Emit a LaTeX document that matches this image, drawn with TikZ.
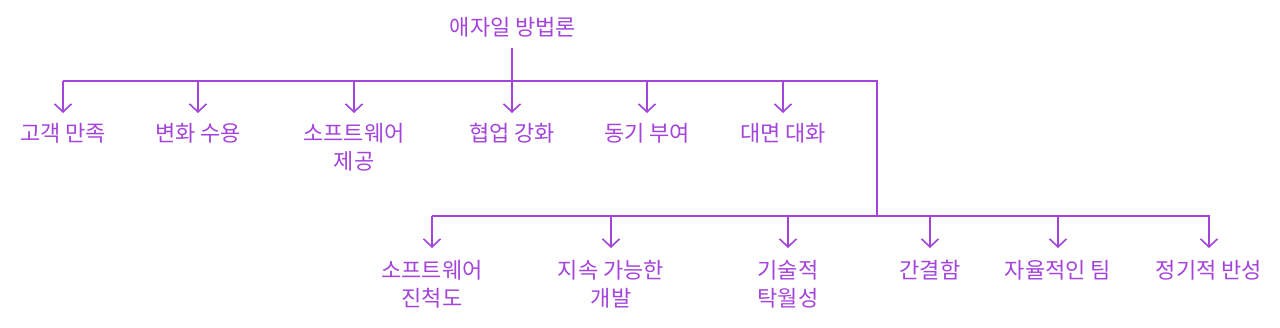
\documentclass[tikz,border=0pt]{standalone}
\usepackage{fontspec}
\setmainfont{Noto Sans CJK KR}
\usetikzlibrary{arrows.meta}
\definecolor{lp}{HTML}{A444DA}
\begin{document}
\begin{tikzpicture}[x=1pt,y=-1pt,
  lbl/.style={text=lp,font=\fontsize{22}{28}\selectfont,align=center,inner sep=0pt,anchor=north},
  conn/.style={draw=lp,line width=1.6pt},
  arr/.style={conn,-{Straight Barb[length=8pt,width=17pt,line width=1.6pt]}}]
\useasboundingbox (0,0) rectangle (1280,327);
\node[lbl,anchor=center] (root) at (513,27) {애자일 방법론};
\coordinate (rb) at (512,48);
\coordinate (j1) at (512,81);
\coordinate (l1) at (63,81);
\coordinate (r1) at (877,81);
\coordinate (j2) at (877,216);
\coordinate (l2) at (432,216);
\coordinate (r2) at (1210,216);
% top row
\node[lbl] (a1) at (63,123) {고객 만족};
\node[lbl] (a2) at (198,123) {변화 수용};
\node[lbl] (a3) at (354,123) {소프트웨어\\제공};
\node[lbl] (a4) at (512,123) {협업 강화};
\node[lbl] (a5) at (647,123) {동기 부여};
\node[lbl] (a6) at (783,123) {대면 대화};
% bottom row
\node[lbl] (b1) at (432,260) {소프트웨어\\진척도};
\node[lbl] (b2) at (611,260) {지속 가능한\\개발};
\node[lbl] (b3) at (788,260) {기술적\\탁월성};
\node[lbl] (b4) at (930,260) {간결함};
\node[lbl] (b5) at (1058,260) {자율적인 팀};
\node[lbl] (b6) at (1209,260) {정기적 반성};
\draw[conn] (rb) -- (j1);
\draw[conn] (l1) -- (r1) -- (j2);
\draw[conn] (l2) -- (r2);
\foreach \n/\x in {a1/63,a2/198,a3/354,a4/512,a5/647,a6/783}
  \draw[arr] (\x,81) -- (\x,113);
\foreach \n/\x in {b1/432,b2/611,b3/788,b4/930,b5/1058,b6/1209}
  \draw[arr] (\x,216) -- (\x,248);
\end{tikzpicture}
\end{document}
